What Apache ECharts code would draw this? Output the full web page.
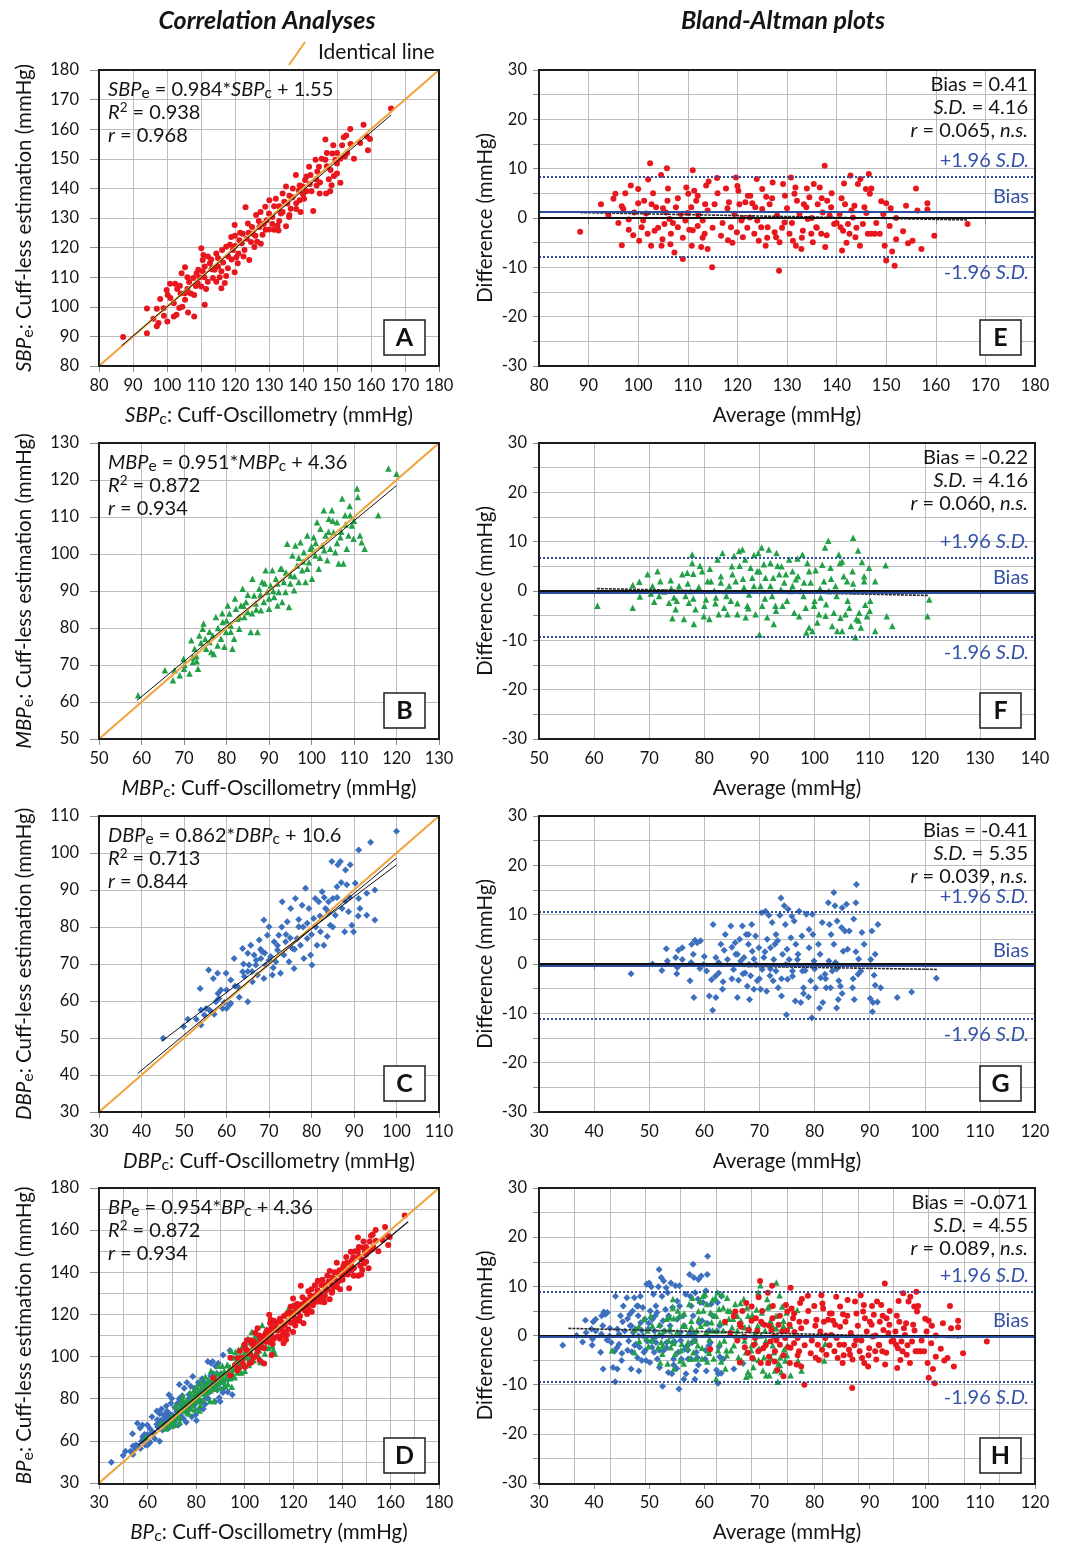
<!DOCTYPE html>
<html>
<head>
<meta charset="utf-8">
<script src="https://cdn.jsdelivr.net/npm/echarts@6/dist/echarts.min.js"></script>
<style>
  html, body { margin: 0; padding: 0; background: #fff; }
  #chart { width: 1069px; height: 1545px; }
</style>
</head>
<body>
<div id="chart"></div>
<script>
// values: [cuff, estimation] for the correlation panels
var sbpCorr = [[87.1,89.8],[94.1,91.1],[94.1,99.4],[97,93.4],[97.5,94.5],[97,99.3],[98,102.6],[99.9,105.7],[100.2,104],[99.1,97],[100.1,95],[102,96.7],[102.8,97.3],[102,101.2],[103.6,99.6],[100.9,107.8],[102.4,107.8],[103.8,107.1],[104.3,111.3],[105.3,113.4],[105.3,104.6],[105.3,102.4],[106.2,98.1],[108,96.7],[106.5,108.4],[107.7,109.7],[108.7,111.3],[109.2,112.5],[110.1,119.8],[110.5,115.8],[110.7,117.5],[111.1,113.6],[111.1,100.7],[110.1,106.9],[112.6,114.7],[113.1,112.7],[113.5,109.7],[114,112.5],[114.5,108.5],[115,113.6],[116,106.3],[116.2,119.2],[117.4,120.3],[117.4,110.4],[117.9,113],[118.9,123.6],[119.4,119.2],[119.9,111.7],[120.4,116.7],[120.8,114.7],[119.9,127.6],[121.3,122.5],[122.3,124.7],[123.1,133.6],[122.8,119.2],[124.2,115.8],[123.8,128.1],[124.7,121.9],[125.2,124.7],[125.7,120.2],[126.2,131],[127.2,127],[127.6,121.3],[128.1,124.3],[128.9,133.8],[129.3,129.2],[130.1,136],[130.1,126.1],[131,130.3],[131.5,134],[132.5,127.4],[132.8,125.8],[133.5,131.5],[134,138.3],[135,140.6],[135,127.2],[135.4,134.9],[135.9,130.3],[136.4,133.1],[136.9,137],[137.9,144.5],[138.8,139.3],[139,136],[139.3,132],[139.8,140.6],[140.3,136.5],[140.6,142.8],[141.8,147.3],[142.2,144.5],[143,132.4],[143.7,149.7],[143.9,143.1],[144.2,145.7],[144.7,147.3],[144.9,138.3],[146.6,156.5],[146.6,149.7],[146.8,138.3],[147.6,143.1],[148.1,146.2],[148.4,141.1],[148.6,151.8],[148.9,154.6],[149.1,144.2],[149.5,149.7],[150,148.4],[151,141.9],[151.5,154.6],[152,157.3],[152.3,150.8],[152.7,157.9],[153.9,160.1],[156.8,155.3],[157.8,161.5],[158.8,157.5],[159.1,152.9],[159.7,156.7],[165.9,167],
  [104,104.5],[106,106],[108,104],[109,108],[111,110],[112,108.5],[113,116],[115,116.5],[116,112],[118,117],[120,120.5],[121,118],[122,121.5],[124,125],[126,124],[127,129],[129,126],[131,128],[133,134],[134,132],[136,137.5],[138,135],[139,141],[141,139],[142,141.5],[145,142],[147,147.5],[150,152],[153,152],
  [96,96],[99,99.5],[101,103],[103,106],[104.5,100],[106,110],[107,104.5],[108.5,107],[109.5,110],[110.5,112],[111.5,106],[112,117],[113.5,113],[114.5,118],[115.5,110],[116.5,115],[117,108],[118.5,121],[119,116],[120,124],[121.5,125],[122.5,117],[123.5,123],[125,127],[126.5,122],[127.5,132],[128.5,128],[130,131.5],[131.5,126],[132,136.5],[133,129],[134.5,135.5],[136,131],[137,140],[138,133],[140,138],[141,144],[142.5,139],[144,141],[145.5,150],[147,152],[148,139],[150,145],[151,150],[154,155],[155,150]]

var mbpCorr = [[59.2,61.8],[65.5,68.6],[67.4,65.9],[67.8,68.6],[69,67.2],[69.9,71.7],[71.3,67.7],[70.1,70.1],[72.1,70.8],[71.7,76.7],[72.5,74.4],[72.9,72.4],[73.3,69],[73.6,78],[74.4,79.8],[74.6,81.2],[75.2,74.4],[76,76.2],[76.4,73.5],[76.8,78],[77.5,83],[77.9,75.3],[78.7,77.1],[79.1,81.6],[79.5,74.9],[79.9,78.9],[80.3,86.1],[80.7,83.9],[81,80.7],[81.4,74.4],[81.8,77.1],[82.2,85.2],[82.6,82.5],[83,79.8],[83.4,86.1],[83.8,90.6],[84.2,83],[84.6,87],[85,84.3],[85.7,78.9],[86.1,93.3],[86.5,88.8],[86.9,86.6],[87.3,78.9],[87.7,90.6],[88.1,84.8],[88.4,92.4],[88.8,87],[89.2,95.6],[89.6,89.7],[90,85.2],[90.4,91.5],[90.8,95.6],[91.2,88.4],[91.6,93.3],[92,86.1],[92.3,89.7],[92.7,96],[93.1,87],[93.5,92.4],[93.9,89.7],[94.3,102.8],[94.7,85.7],[95.1,94.2],[95.5,99.6],[95.9,90.2],[96.2,102.3],[96.6,96.9],[97,92.4],[97.4,103.2],[97.8,95.6],[98.2,100.5],[98.6,92.4],[99,105],[99.4,97.8],[99.8,101.4],[100.1,93.3],[100.5,104.5],[100.9,99.6],[101.3,108.6],[101.7,96],[102.1,106.8],[102.5,102.3],[102.9,111.8],[103.3,105],[103.7,98.3],[104.1,109.5],[104.4,101.4],[104.8,111.8],[105.2,105.9],[105.6,100.5],[106,108.6],[106.4,97.4],[106.8,104.5],[107.2,115],[107.5,97.4],[107.9,110.5],[108.3,101.4],[108.7,105],[109.1,110.5],[109.5,107.7],[109.9,104.1],[110.7,117.7],[110.9,115.4],[111.4,105],[111.8,103.2],[112.5,101.4],[115.7,110.5],[118.1,123.1],[120,121.7],
  [72,72],[74,76],[76,79],[78,80],[80,82],[82,88],[84,86],[86,84],[88,89],[90,88],[92,92],[94,95],[96,94],[98,98],[100,102],[102,99],[104,106],[106,103],[108,108],[110,109],
  [70,69],[73,71],[75,77],[77,73],[79,84],[81,79],[83,83],[85,89],[87,85],[89,92],[91,90],[93,96],[95,92],[97,99],[99,96],[101,103],[103,101],[105,109],[107,106],[109,113]]

var dbpCorr = [[45.1,49.9],[49.9,53.1],[50.9,55.1],[52.9,55.1],[54,53.5],[53.8,63.4],[54,57.6],[54.8,56.2],[55.2,58],[55.8,68.4],[56,57.6],[56.4,57.1],[56.9,66.1],[57.1,56.4],[57.5,59.8],[57.9,67.5],[58.2,60.7],[58.7,63],[59.1,58],[59.5,59.6],[59.9,67.5],[60,58],[60.7,58.9],[61,65.7],[61,59.4],[61.8,71.5],[62.6,63.9],[63.8,74.2],[63.8,67.9],[64.2,66.6],[65,59.8],[65,72.9],[65.3,69.7],[65.7,75.1],[66.1,65.2],[66.5,72.4],[66.9,69.7],[67.3,67],[67.7,76.5],[68.1,71.5],[68.4,73.3],[68.8,81.9],[68.8,66.1],[69.2,69.7],[69.6,77.8],[70,80.1],[70.4,72],[70.8,67],[71.2,76],[71.6,70.6],[72,73.8],[72.3,77.8],[72.7,67.5],[73.1,86.8],[73.5,72.4],[73.9,76],[74.3,81.4],[74.7,70.6],[75.1,85],[75.5,74.2],[75.9,68.8],[76.2,87.7],[76.6,76.9],[77,80.1],[77.4,75.1],[77.8,85.9],[78.2,71.5],[78.6,90.5],[79,76.9],[79.4,85],[79.8,72.4],[80.1,69.7],[80.5,82.3],[80.9,87.7],[81.3,75.1],[81.7,86.8],[82.1,78.7],[82.5,89.5],[82.9,75.1],[83.3,85],[83.7,77.4],[84,86.8],[84.4,80.5],[84.8,97.7],[85,87.7],[85.6,83.2],[86,90.9],[86.2,96.8],[86.8,97.7],[87.2,85],[87.8,78.7],[88,95.4],[88.3,91.4],[88.7,84.1],[89.1,96.8],[89.5,80.5],[89.9,78.7],[90.3,91.8],[91.1,87.7],[91.4,85],[93,89.1],[93,83.2],[93.9,102.9],[94.9,90],[94.9,81.9],[91.1,100.8],[100,105.9],
  [62,64],[64,70],[66,68],[68,74],[70,71],[72,75],[74,78],[76,74],[78,80],[80,78],[82,83],[84,84],[86,88],[88,87],
  [58,62],[60,63],[63,61],[65,68],[67,71],[69,73],[71,69],[73,80],[75,77],[77,82],[79,81],[81,80],[83,88],[85,80],[87,92],[89,88],[91,83]]

// [average, difference] for the Bland-Altman panels
var sbpBA = [[88.3,-2.8],[92.5,2.8],[95,3.9],[95.4,4.9],[96.7,-5.5],[96.7,2.4],[97.4,5],[98.1,-0.3],[98.1,-2.4],[98.5,6.6],[99.2,1.1],[100,5.9],[100.2,-4.6],[100.7,-1.9],[101.2,3.5],[101.6,0.9],[101.9,-3.2],[102,7.8],[102.4,11.1],[102.6,-5.6],[102.7,2.8],[103.3,-2.6],[103.6,2.2],[104.6,8.7],[104.7,-5.6],[104.9,-4.3],[105.3,-1.2],[105.6,1.1],[105.8,10.1],[105.9,3.5],[106.3,-0.2],[106.5,-5.3],[106.6,-3.2],[107.3,-7],[107.6,2.2],[108,-1.9],[108.6,0.8],[109,-8.3],[109.5,-0.5],[109.7,6.2],[110.1,4.9],[110.3,-2.4],[110.7,2.2],[110.8,-5.6],[111,9.7],[111.3,5.5],[111.7,3.5],[112,-1.6],[112.1,0.7],[112.7,-5.9],[113,-0.5],[113.4,-3.2],[113.5,2.8],[113.7,6.6],[114,-6.3],[114.2,7.4],[114.9,-10],[115.4,2.8],[115.9,8.1],[116.7,-3.6],[117.7,6],[118.1,-4.5],[118.3,3.2],[118.7,-1.9],[119.4,0.8],[119.7,8.2],[119.9,-2.9],[120.2,5.5],[120.4,2.8],[120.8,-0.5],[121.1,-3.9],[121.6,3.2],[122.1,4.5],[122.5,0.1],[122.6,4.5],[123.4,-3.2],[123.6,2.2],[123.9,7.9],[124.3,-4.6],[124.8,-1.9],[125,5.9],[125.7,-5.6],[125.8,4.3],[126.1,-1.9],[126.5,2.8],[127.1,7.2],[127.5,-2.9],[127.8,-3.9],[128.4,-10.7],[128.5,-4.9],[129.2,6.9],[129.5,-0.9],[129.6,4.5],[130.5,-3.2],[130.8,8.2],[131.2,-4.6],[131.5,4.9],[131.7,6.2],[131.8,-5.6],[132.5,0.8],[132.9,-6.3],[133.2,-2.6],[133.4,2.8],[133.9,2.2],[134.2,-0.2],[134.5,4.2],[134.9,-3.2],[135.2,-4.9],[135.4,6.9],[135.9,-1.9],[136.2,2.8],[136.6,6.2],[136.9,-3.2],[137.2,1.1],[137.6,10.6],[137.7,-5.9],[138.1,3.5],[138.6,0.5],[138.9,2.2],[139.5,-1.2],[140.6,0.8],[140.8,-1.9],[141.1,-6.6],[141.3,-2.6],[141.5,7],[141.7,2.8],[142.3,-1.2],[142.6,-3.2],[142.8,8.6],[143.3,0.1],[143.6,2.5],[143.8,-3.9],[144.3,6.9],[144.7,-5.6],[144.8,7.9],[145.3,-1.2],[145.6,2.2],[145.9,5.9],[146.3,-3.2],[146.5,8.9],[146.7,4.9],[147,-3.2],[147.7,-3.2],[148.7,-3.2],[149,3.4],[149.4,0.8],[149.7,-5.6],[150,-8.6],[150.7,-1.6],[150.9,2],[151.2,-6.8],[151.7,-9.7],[152,-4.3],[153.4,-2.7],[154.4,-5.1],[155.3,-4.6],[156,6],[156.3,1.5],[157.1,-6.3],[158.3,3],[158.3,1.7],[159.7,-3.6],[166.4,-1.2],
  [94,0.5],[96,-1],[97,1.8],[99,-3.5],[100,3],[101,-0.5],[103,5],[104,-2],[105,2],[106,6],[107,-1],[108,4],[109,-4],[110,1],[111,-2.5],[112,4.5],[113,-4],[114,1.5],[115,-2],[116,5],[117,-1],[118,2],[119,-5],[120,6.5],[121,0],[122,-2],[123,3],[124,-0.5],[125,1.8],[126,-4],[127,4],[128,0.5],[129,-2],[130,2],[131,-1],[132,3.5],[133,-4],[134,6],[135,0],[136,-2],[137,4],[138,-3.5],[139,5],[140,-1],[141,4],[142,-5],[143,1.5],[144,-2],[146,1],[147,6],[148,-1],[150,3],[152,0],[154,2.5]]

var mbpBA = [[60.6,-3],[67,-3.4],[67,1.2],[68.2,1.9],[68.3,-1.1],[69.7,3.4],[70.3,-0.5],[70.6,1],[70.9,-2.2],[71.5,4],[71.8,-1],[72.7,-0.1],[73.6,-2.4],[73.9,2.2],[74.2,-5.5],[74.5,-1.3],[74.8,-3.7],[75.4,1],[76,3.4],[76.3,-5.7],[76.6,-1],[76.9,3.7],[77.2,-2.4],[77.5,0],[77.8,7.4],[77.8,5.7],[78,3.5],[78.1,-6.7],[78.4,-3.7],[79,0.8],[79.2,5.1],[79.6,4],[79.9,-5.1],[80.3,-1.7],[80.6,2],[80.9,-5.7],[81.2,2],[81.8,0.1],[82.1,-1.3],[82.4,6.4],[82.6,-4.7],[83,1.7],[83.3,7.7],[83.6,-3.4],[83.9,0],[84.2,-4.7],[84.5,1],[84.8,-2],[85.1,3.4],[85.4,7.1],[85.7,2],[86,-4.7],[86.3,8.1],[86.4,5.1],[86.9,8.4],[87.2,0.7],[87.4,6.4],[87.5,-5.3],[87.8,-3],[88.1,-0.7],[88.4,4.7],[88.7,2.7],[89,7.3],[89.3,-4.7],[89.6,4],[89.8,7.7],[90,-8.8],[90.2,1],[90.4,8.8],[90.5,-3],[90.8,5.4],[91.1,2.7],[91.4,-5.3],[91.7,8.4],[92,5.7],[92.3,-1],[92.5,2.7],[92.6,-6.7],[92.9,-3],[93.1,7.7],[93.3,5.1],[93.6,3.4],[93.9,0.3],[94.2,-3],[94.5,1.7],[94.8,3.4],[95.4,6.4],[95.7,0],[96,4],[96.3,-4.4],[96.6,2.4],[96.9,6.6],[97.2,-5.1],[97.5,0],[97.8,7.4],[98.1,1.7],[98.4,-3.4],[98.5,-8.4],[98.7,5.7],[99,-7.4],[99.3,1.7],[99.6,-8.1],[99.9,-3],[100.2,4.2],[100.5,-6.4],[100.8,-4.7],[101.1,-1.3],[101.4,5.3],[101.7,2],[101.9,8.8],[102.1,-2.7],[102.5,10.2],[102.6,0],[102.9,4.7],[103.2,-7.1],[103.5,-4.4],[103.8,1],[104.1,-8.1],[104.4,7.4],[104.6,5.7],[104.7,-5.4],[105,-8.1],[105.3,3],[105.6,-4.7],[105.9,2],[106.3,-3.4],[106.6,-7.1],[106.9,4],[107,10.8],[107.2,0],[107.4,-9.4],[107.6,-5.7],[107.9,8.2],[108.1,-4.4],[108.4,-7.4],[108.6,5.9],[109,2],[109.2,-2.8],[109.5,-5.1],[109.9,4.7],[110.1,-2],[111,-8.1],[112.9,5.2],[113.1,-5.1],[114.1,-7.1],[120.5,-5.1],[120.8,-1.7],
  [72,2],[74,0.5],[75,-2],[77,1.5],[78,-1.5],[80,-3],[81,4.5],[82,-2.5],[83,3],[84,-1],[85,5],[86,-2.5],[87,2.5],[88,-3.5],[89,1],[90,4],[91,-1.5],[92,1],[93,-4],[94,5],[95,-2],[96,1],[97,3],[98,-1],[99,4],[100,-2],[101,0.5],[102,-5],[103,2.5],[104,-1],[105,6],[106,-2],[107,1.5],[108,-6],[109,3],[110,-4],[111,2]]

var dbpBA = [[46.7,-2],[50.6,0],[52.3,-1.3],[53.1,3.1],[53.3,0.6],[54.8,1.3],[55.1,-0.7],[55.3,2.8],[56,3.3],[56,0.9],[57.4,-3.4],[57.6,0.3],[57.7,4],[58.1,-6.8],[58.3,4.8],[58.7,4.3],[59.2,-0.9],[59.3,4.7],[59.9,-0.1],[60.4,-1.4],[60.9,-6.5],[61.3,-3.2],[61.5,-9.4],[61.6,8],[62.1,-6.8],[62.1,1.3],[62.6,0.3],[62.6,-1.8],[63.3,-5.1],[63.4,-3.6],[63.6,2.8],[63.8,6],[64.2,0.9],[64.8,7.7],[65,3.4],[65.3,-1.1],[65.6,4.3],[65.7,2],[66,-6.8],[66.2,-3.3],[66.4,5],[66.6,0.6],[66.9,7.7],[67.2,1.3],[67.4,-1.8],[67.6,6],[67.8,-4.5],[68,4],[68.1,-0.1],[68.2,-7.2],[68.4,-2.4],[68.6,8],[68.7,2.6],[69,-5.1],[69.3,5.7],[69.4,-0.1],[69.6,-3.4],[69.9,3.3],[70.2,-5.1],[70.4,10.4],[70.5,-1.1],[70.8,1.3],[71.1,10.7],[71.3,-5.5],[71.4,5],[71.7,9.9],[71.9,-2.4],[72,3.3],[72.3,8.4],[72.5,-3.4],[72.6,0.9],[72.8,4],[73,-1.4],[73.3,4.7],[73.4,-4.8],[73.7,9.9],[73.9,13.4],[74,-6.5],[74.2,2],[74.5,11.8],[74.7,8],[74.8,-0.1],[74.9,-10.3],[75.1,-3.1],[75.2,11.1],[75.4,0.9],[75.7,5.3],[75.9,9.7],[76,-1.4],[76.3,8.7],[76.5,-7.5],[76.6,4],[76.9,0.9],[77.2,10.7],[77.5,-7.8],[77.7,5.7],[77.8,-1.4],[78,-4.8],[78.3,-1.3],[78.5,10.1],[78.9,-6.7],[79,3.3],[79.3,-3.4],[79.5,-10.9],[79.6,10.1],[79.7,6],[79.9,0.6],[80.2,-4.8],[80.7,4],[80.9,-8.9],[81.1,-2.8],[81.4,8.4],[81.5,-7.8],[81.9,-2.1],[82.1,-4.8],[82.5,12.4],[82.6,0.6],[82.7,8],[82.9,-4.8],[83.2,-1.4],[83.5,14.5],[83.5,4],[83.7,11.8],[83.8,0.3],[84,-8.9],[84.1,8.7],[84.3,-7.2],[84.4,-3.4],[84.7,-4.5],[84.9,7.4],[85,11.4],[85.2,2.6],[85.5,6.7],[85.8,12.1],[86.3,6.7],[86.9,-4.8],[87.1,9.1],[87.2,-7.2],[87.5,2.5],[87.6,16.1],[87.5,12.4],[87.9,-2.1],[88.4,-1.4],[88.6,6.4],[90.1,-7],[90.2,0.9],[90.4,6.7],[90.5,-9.7],[90.6,-7.8],[90.8,-2.3],[91,-4.3],[91.4,-7.7],[91.5,8],[92,-4.8],[95,-6.8],[97.6,-5.7],[102.1,-2.9],
  [55,-2],[58,2],[60,1.5],[62,-2.5],[63,4],[65,-3],[66,2],[67,-2],[68,6],[69,1],[70,-3],[71,2.5],[72,-1],[73,6],[74,-3],[75,3],[76,-2.5],[77,2],[78,-6],[79,7],[80,-1],[81,2],[82,-3],[83,6],[84,-1],[85,-6],[86,3],[87,-3],[88,1],[89,4],[91,2]]

// lines
var identA = [[80,80],[180,180]]
var identB = [[50,50],[130,130]]
var identC = [[30,30],[110,110]]
var identD = [[40,40],[180,180]]
var regA = [[86.7,86.9],[165.9,164.8]]
var regB = [[58.9,60.4],[120,118.5]]
var regC = [[44.7,49.1],[100,96.8]]
var regC2 = [[39.1,40.4],[100,98.6]]
var regD = [[56.2,58],[167.3,164]]
var regE = [[88.3,1.1],[166.5,-0.4]]
var regF = [[60.5,0.5],[120.7,-0.9]]
var regG = [[46.5,-0.1],[102.2,-1.1]]
var regH = [[48.3,1.45],[159.3,-0.45]]
// [upper limit, bias line, lower limit]
var limE = [8.4, 1.2, -7.8]
var limF = [6.7, -0.45, -9.3]
var limG = [10.5, -0.45, -11.0]
var limH = [8.95, -0.2, -9.4]

var dTickLabels = ['30', '60', '80', '100', '120', '140', '160', '180']

var FONT = 'Lato, "Open Sans", sans-serif'
var TXT = '#141414'
var GRIDC = '#bcbcbc'
var BLUE_T = '#3553a6'
var BLUE_L = '#2c4c9f'
var ORANGE = '#f0a33a'
var RED = '#e8161d', GREEN = '#21a047', BLUE = '#3c6fbe'
var FS = 20, TICK_FS = 16.5

var colX = [99, 539], colW = [340, 496], rowY = [70, 443, 816, 1188], plotH = 296

var rich = {
  i: { fontStyle: 'italic', fontFamily: FONT, fontSize: 20.5, color: TXT, lineHeight: 24 },
  s: { fontFamily: FONT, fontSize: 16, color: TXT, lineHeight: 21, verticalAlign: 'bottom' }
}
var grich = {
  i: { fontStyle: 'italic', fontFamily: FONT, fontSize: FS, fill: TXT, lineHeight: 23 },
  s: { fontFamily: FONT, fontSize: 15.5, fill: TXT, lineHeight: 20, verticalAlign: 'bottom' },
  sup: { fontFamily: FONT, fontSize: 13.5, fill: TXT, lineHeight: 14, verticalAlign: 'top' }
}

var grids = []
for (var c = 0; c < 2; c++) {
  for (var r = 0; r < 4; r++) {
    grids.push({ left: colX[c], top: rowY[r], width: colW[c], height: plotH, containLabel: false })
  }
}

function axis (gi, min, max, step, dim, col, name) {
  var a = {
    type: 'value', gridIndex: gi, min: min, max: max, interval: step,
    axisLine: { show: false },
    axisTick: { show: true, length: (dim === 'y' && col === 0) ? 9 : 6, lineStyle: { color: '#8c8c8c' } },
    axisLabel: { fontFamily: FONT, fontSize: TICK_FS, color: TXT, margin: dim === 'x' ? 11 : (col === 0 ? 20 : 12) },
    splitLine: { show: true, lineStyle: { color: GRIDC, width: 1 } },
    name: name,
    nameLocation: 'middle',
    nameGap: dim === 'x' ? 37 : (col === 0 ? 63 : 42),
    nameTextStyle: { fontFamily: FONT, fontSize: 20.5, color: TXT, lineHeight: 24, rich: rich }
  }
  return a
}

var xAxes = [
  axis(0, 80, 180, 10, 'x', 0, '{i|SBP}{s|c}: Cuff-Oscillometry (mmHg)'),
  axis(1, 50, 130, 10, 'x', 0, '{i|MBP}{s|c}: Cuff-Oscillometry (mmHg)'),
  axis(2, 30, 110, 10, 'x', 0, '{i|DBP}{s|c}: Cuff-Oscillometry (mmHg)'),
  axis(3, 40, 180, 20, 'x', 0, '{i|BP}{s|c}: Cuff-Oscillometry (mmHg)'),
  axis(4, 80, 180, 10, 'x', 1, 'Average (mmHg)'),
  axis(5, 50, 140, 10, 'x', 1, 'Average (mmHg)'),
  axis(6, 30, 120, 10, 'x', 1, 'Average (mmHg)'),
  axis(7, 40, 180, 10, 'x', 1, ''),
  axis(7, 30, 120, 10, 'x', 1, 'Average (mmHg)')
]
var yAxes = [
  axis(0, 80, 180, 10, 'y', 0, '{i|SBP}{s|e}: Cuff-less estimation (mmHg)'),
  axis(1, 50, 130, 10, 'y', 0, '{i|MBP}{s|e}: Cuff-less estimation (mmHg)'),
  axis(2, 30, 110, 10, 'y', 0, '{i|DBP}{s|e}: Cuff-less estimation (mmHg)'),
  axis(3, 40, 180, 20, 'y', 0, '{i|BP}{s|e}: Cuff-less estimation (mmHg)'),
  axis(4, -30, 30, 10, 'y', 1, 'Difference (mmHg)'),
  axis(5, -30, 30, 10, 'y', 1, 'Difference (mmHg)'),
  axis(6, -30, 30, 10, 'y', 1, 'Difference (mmHg)'),
  axis(7, -30, 30, 10, 'y', 1, 'Difference (mmHg)')
]
// panel D: ticks every 20, grid every 10, first label as printed
;[xAxes[3], yAxes[3]].forEach(function (a) {
  a.axisLabel.formatter = function (v, idx) { return dTickLabels[idx] }
  a.minorTick = { show: false, splitNumber: 2 }
  a.minorSplitLine = { show: true, lineStyle: { color: GRIDC, width: 1 } }
})
// Bland-Altman y: lines every 5
for (var k = 4; k < 8; k++) {
  yAxes[k].minorTick = { show: true, splitNumber: 2, length: 6, lineStyle: { color: '#8c8c8c' } }
  yAxes[k].minorSplitLine = { show: true, lineStyle: { color: GRIDC, width: 1 } }
}
// panel H: data axis 40-180 (grid every 10), labels from a second axis as printed
xAxes[7].axisLabel.show = false
xAxes[7].axisTick.show = false
xAxes[7].position = 'bottom'
xAxes[8].position = 'bottom'
xAxes[8].splitLine.show = false

var KIND = {
  red: { symbol: 'circle', size: 6, color: RED },
  green: { symbol: 'triangle', size: 6.5, color: GREEN },
  blue: { symbol: 'diamond', size: 7, color: BLUE }
}

function scat (data, xi, yi, kind) {
  var k = KIND[kind]
  return {
    type: 'scatter', xAxisIndex: xi, yAxisIndex: yi, data: data,
    symbol: k.symbol, symbolSize: k.size, itemStyle: { color: k.color, opacity: 1 },
    silent: true, z: 2
  }
}
function line (data, xi, yi, color, width, type, z) {
  return {
    type: 'line', xAxisIndex: xi, yAxisIndex: yi, data: data, showSymbol: false, symbol: 'none',
    lineStyle: { color: color, width: width, type: type || 'solid' }, silent: true, z: z || 3
  }
}
function limits (s, lim) {
  var lab = { fontFamily: FONT, fontSize: FS, color: BLUE_T, distance: 6, rich: { i: { fontStyle: 'italic', fontFamily: FONT, fontSize: FS, color: BLUE_T } } }
  s.markLine = {
    symbol: 'none', silent: true, animation: false,
    data: [
      { yAxis: 0, lineStyle: { color: '#111', width: 2, type: 'solid' }, label: { show: false } },
      { yAxis: lim[0], lineStyle: { color: BLUE_L, width: 2, type: 'dotted' }, label: Object.assign({ show: true, position: 'insideEndTop', formatter: '+1.96 {i|S.D.}' }, lab) },
      { yAxis: lim[1], lineStyle: { color: BLUE_L, width: 2, type: 'solid' }, label: Object.assign({ show: true, position: 'insideEndTop', formatter: 'Bias' }, lab) },
      { yAxis: lim[2], lineStyle: { color: BLUE_L, width: 2, type: 'dotted' }, label: Object.assign({ show: true, position: 'insideEndBottom', formatter: '-1.96 {i|S.D.}' }, lab) }
    ]
  }
  return s
}

var series = [
  scat(sbpCorr, 0, 0, 'red'),
  line(identA, 0, 0, ORANGE, 2),
  line(regA, 0, 0, '#111', 1),
  scat(mbpCorr, 1, 1, 'green'),
  line(identB, 1, 1, ORANGE, 2),
  line(regB, 1, 1, '#111', 1),
  scat(dbpCorr, 2, 2, 'blue'),
  line(identC, 2, 2, ORANGE, 2),
  line(regC, 2, 2, '#111', 1),
  line(regC2, 2, 2, '#111', 1),
  scat(dbpCorr, 3, 3, 'blue'),
  scat(mbpCorr, 3, 3, 'green'),
  scat(sbpCorr, 3, 3, 'red'),
  line(identD, 3, 3, ORANGE, 2),
  line(regD, 3, 3, '#111', 1.2),
  scat(sbpBA, 4, 4, 'red'),
  limits(line(regE, 4, 4, '#2a2a2a', 1.6, [3, 1]), limE),
  scat(mbpBA, 5, 5, 'green'),
  limits(line(regF, 5, 5, '#2a2a2a', 1.6, [3, 1]), limF),
  scat(dbpBA, 6, 6, 'blue'),
  limits(line(regG, 6, 6, '#2a2a2a', 1.6, [3, 1]), limG),
  scat(dbpBA, 7, 7, 'blue'),
  scat(mbpBA, 7, 7, 'green'),
  scat(sbpBA, 7, 7, 'red'),
  limits(line(regH, 7, 7, '#2a2a2a', 1.6, [3, 1]), limH)
]

var letters = ['A', 'B', 'C', 'D', 'E', 'F', 'G', 'H']
var stats = [
  '{i|SBP}{s|e} = 0.984*{i|SBP}{s|c} + 1.55\n{i|R}{sup|2} = 0.938\n{i|r} = 0.968',
  '{i|MBP}{s|e} = 0.951*{i|MBP}{s|c} + 4.36\n{i|R}{sup|2} = 0.872\n{i|r} = 0.934',
  '{i|DBP}{s|e} = 0.862*{i|DBP}{s|c} + 10.6\n{i|R}{sup|2} = 0.713\n{i|r} = 0.844',
  '{i|BP}{s|e} = 0.954*{i|BP}{s|c} + 4.36\n{i|R}{sup|2} = 0.872\n{i|r} = 0.934',
  'Bias = 0.41\n{i|S.D.} = 4.16\n{i|r} = 0.065, {i|n.s.}',
  'Bias = -0.22\n{i|S.D.} = 4.16\n{i|r} = 0.060, {i|n.s.}',
  'Bias = -0.41\n{i|S.D.} = 5.35\n{i|r} = 0.039, {i|n.s.}',
  'Bias = -0.071\n{i|S.D.} = 4.55\n{i|r} = 0.089, {i|n.s.}'
]

var graphic = []
graphic.push({ type: 'text', x: 267, y: 21, silent: true, style: { text: 'Correlation Analyses', fontFamily: FONT, fontSize: 25, fontWeight: 'bold', fontStyle: 'italic', fill: TXT, align: 'center', verticalAlign: 'middle' } })
graphic.push({ type: 'text', x: 783, y: 21, silent: true, style: { text: 'Bland-Altman plots', fontFamily: FONT, fontSize: 25, fontWeight: 'bold', fontStyle: 'italic', fill: TXT, align: 'center', verticalAlign: 'middle' } })
graphic.push({ type: 'line', silent: true, shape: { x1: 289, y1: 65, x2: 305, y2: 42 }, style: { stroke: ORANGE, lineWidth: 2 } })
graphic.push({ type: 'text', x: 318, y: 52, silent: true, style: { text: 'Identical line', fontFamily: FONT, fontSize: 21, fill: TXT, align: 'left', verticalAlign: 'middle' } })

grids.forEach(function (g, i) {
  var right = i >= 4
  graphic.push({ type: 'rect', z: 60, silent: true, shape: { x: g.left, y: g.top, width: g.width, height: g.height }, style: { fill: 'none', stroke: '#1c1c1c', lineWidth: 2 } })
  var bx = g.left + g.width - 14 - 41, by = g.top + g.height - 11 - 35
  graphic.push({ type: 'rect', z: 61, silent: true, shape: { x: bx, y: by, width: 41, height: 35 }, style: { fill: '#fff', stroke: '#1c1c1c', lineWidth: 1.5 } })
  graphic.push({ type: 'text', z: 62, silent: true, x: bx + 20.5, y: by + 18, style: { text: letters[i], fontFamily: FONT, fontSize: 25, fontWeight: 'bold', fill: '#111', align: 'center', verticalAlign: 'middle' } })
  graphic.push({
    type: 'text', z: 62, silent: true,
    x: right ? g.left + g.width - 7 : g.left + 9,
    y: right ? g.top + 3 : g.top + 8,
    style: { text: stats[i], rich: grich, fontFamily: FONT, fontSize: FS, lineHeight: 23, fill: TXT, align: right ? 'right' : 'left', verticalAlign: 'top' }
  })
})

var myChart = echarts.init(document.getElementById('chart'))
myChart.setOption({
  animation: false,
  backgroundColor: '#fff',
  grid: grids,
  xAxis: xAxes,
  yAxis: yAxes,
  series: series,
  graphic: graphic
})
</script>
</body>
</html>
